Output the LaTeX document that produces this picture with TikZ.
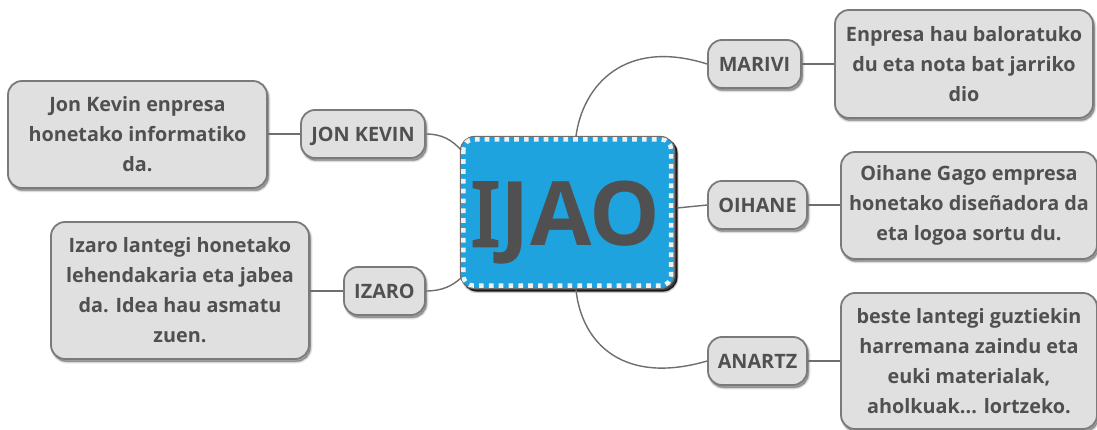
\documentclass[tikz,border=0pt]{standalone}
\usepackage{fontspec}
\setmainfont{Open Sans}
\newfontfamily\serifI{Noto Sans}[FakeBold=3]
\usetikzlibrary{shadows,calc}
\definecolor{ink}{HTML}{505050}
\definecolor{edge}{HTML}{7A7A7A}
\definecolor{boxfill}{HTML}{E0E0E0}
\definecolor{wire}{HTML}{6E6E6E}
\definecolor{hub}{HTML}{1FA3DF}
\definecolor{dots}{HTML}{F0F0F0}
\tikzset{
  softshadow/.style={
    general shadow={shadow xshift=1.5pt,shadow yshift=-2.5pt,fill=black,draw=black,line width=4pt,opacity=.07},
    general shadow={shadow xshift=1.5pt,shadow yshift=-2.5pt,fill=black,draw=black,line width=2.4pt,opacity=.10},
    general shadow={shadow xshift=1.5pt,shadow yshift=-2.5pt,fill=black,draw=black,line width=1pt,opacity=.14}},
  boxbase/.style={rectangle,rounded corners=14pt,draw=edge,line width=1.8pt,fill=boxfill,text=ink,
    inner sep=0pt,font=\fontsize{19.8}{30}\selectfont\bfseries,softshadow},
  card/.style={boxbase,align=center},
  tag/.style={boxbase,text height=14.2pt,text depth=0pt},
  hubnode/.style={rectangle,rounded corners=14pt,draw=wire,line width=1.2pt,fill=hub,inner sep=0pt,
    minimum width=214pt,minimum height=152pt,
    general shadow={shadow xshift=2.5pt,shadow yshift=-3pt,fill=black,draw=black,line width=3pt,opacity=.2},
    general shadow={shadow xshift=2.5pt,shadow yshift=-2.5pt,fill=black,draw=black,line width=1.2pt,opacity=.7}},
  wire/.style={draw=wire,line width=1.4pt},
  dotline/.style={draw=dots,line width=4.4pt,rounded corners=10pt,dash pattern=on 4.7pt off 5.13pt},
  hubtextstyle/.style={text=ink,font=\fontsize{89}{89}\selectfont\bfseries,inner sep=0pt,anchor=base}
}
\newcommand{\boxat}[7]{% name, x1,y1,x2,y2, style, text
  \node[#6,minimum width={(#4-#2)*1pt},minimum height={(#5-#3)*1pt}] (#1) at ({(#2+#4)/2},{(#3+#5)/2}) {#7};}
\begin{document}
\begin{tikzpicture}[x=1pt,y=-1pt]
\useasboundingbox (0,0) rectangle (1097,430);
\fill[white] (0,0) rectangle (1097,430);

\node[hubnode] (hub) at (567.5,212.5) {};
\draw[dotline] ($(hub.north west)+(3.5,3.5)$) rectangle ($(hub.south east)+(-4,-3.5)$);
\node[hubtextstyle] (hubtext) at (565.5,246) {{\serifI I}JAO};

\boxat{jk}{301}{110}{425}{158}{tag}{JON KEVIN}
\boxat{iz}{344}{267}{425}{315}{tag}{IZARO}
\boxat{ma}{708}{40}{801}{88}{tag}{MARIVI}
\boxat{oi}{708}{181}{807}{229}{tag}{OIHANE}
\boxat{an}{708}{337}{807}{385}{tag}{ANARTZ}

\boxat{jkt}{8}{81}{267}{188}{card}{Jon Kevin enpresa\\honetako informatiko\\da.}
\boxat{izt}{51}{222}{309}{359}{card}{Izaro lantegi honetako\\lehendakaria eta jabea\\da. Idea hau asmatu\\zuen.}
\boxat{mat}{835}{10}{1093}{118}{card}{Enpresa hau baloratuko\\du eta nota bat jarriko\\dio}
\boxat{oit}{841}{152}{1097}{259}{card}{Oihane Gago empresa\\honetako diseñadora da\\eta logoa sortu du.}
\boxat{ant}{841}{293}{1097}{429}{card}{beste lantegi guztiekin\\harremana zaindu eta\\euki materialak,\\aholkuak... lortzeko.}

\coordinate (hubN) at (576,136);
\coordinate (hubS) at (576,290);
\coordinate (hubE) at (677,208);
\coordinate (hubNW) at (461,150);
\coordinate (hubSW) at (461,278);
\draw[wire] (hubN) .. controls (583,85) and (625,38) .. (ma.west);
\draw[wire] (hubE) -- (oi.west);
\draw[wire] (hubS) .. controls (582,345) and (625,385) .. (an.west);
\draw[wire] (hubNW) .. controls (452,140) and (442,134) .. (jk.east);
\draw[wire] (hubSW) .. controls (452,286) and (442,291) .. (iz.east);
\draw[wire] (jk.west) -- (jkt.east |- jk.west);
\draw[wire] (iz.west) -- (izt.east |- iz.west);
\draw[wire] (ma.east) -- (mat.west |- ma.east);
\draw[wire] (oi.east) -- (oit.west |- oi.east);
\draw[wire] (an.east) -- (ant.west |- an.east);
\end{tikzpicture}
\end{document}
